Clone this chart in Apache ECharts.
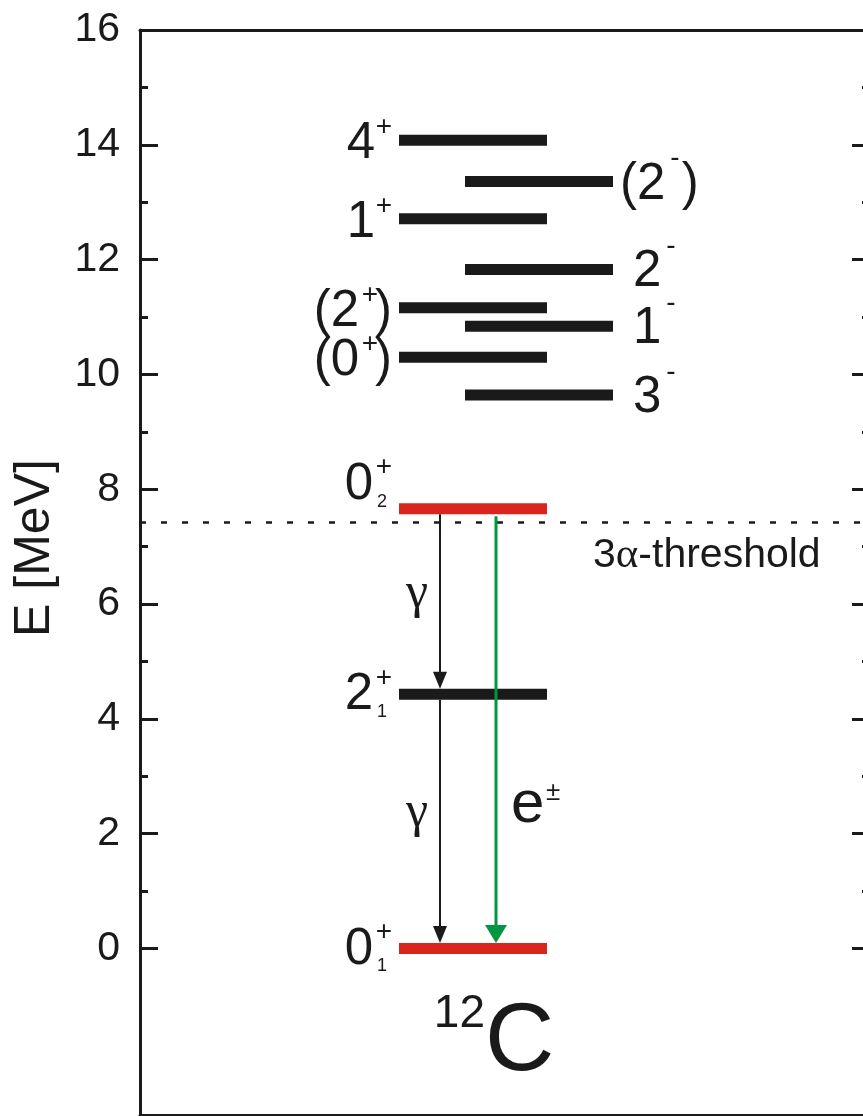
<!DOCTYPE html>
<html><head><meta charset="utf-8">
<script src="https://cdn.jsdelivr.net/npm/echarts@6/dist/echarts.min.js"></script>
<style>html,body{margin:0;padding:0;background:#fff}#c{width:863px;height:1116px}</style>
</head><body><div id="c"></div>
<script>
// ---------------- data ----------------
const yMajorTicks = [0, 2, 4, 6, 8, 10, 12, 14, 16];
const yMinorTicks = [1, 3, 5, 7, 9, 11, 13, 15];
const levelEnergy    = [14.08, 13.36, 12.71, 11.83, 11.16, 10.84, 10.30, 9.64, 7.66, 4.43, 0.00];
const levelSpin      = ['4', '2', '1', '2', '2', '1', '0', '3', '0', '2', '0'];
const levelParity    = ['+', '-', '+', '-', '+', '-', '+', '-', '+', '+', '+'];
const levelIndex     = ['', '', '', '', '', '', '', '', '2', '1', '1'];
const levelTentative = [false, true, false, false, true, false, true, false, false, false, false];
const levelColumn    = ['left', 'right', 'left', 'right', 'left', 'right', 'left', 'right', 'left', 'left', 'left'];
const transFrom  = [7.66, 4.43, 7.66];
const transTo    = [4.43, 0.00, 0.00];
const transKind  = ['gamma', 'gamma', 'pair'];
const transLabel = ['γ', 'γ', 'e'];
const transLabelSup = ['', '', '±'];
const thresholdE = 7.42;
const thresholdLabel = ['3', 'α', '-threshold'];
const nucleusMass = '12';
const nucleusSymbol = 'C';
const yAxisTitle = 'E [MeV]';
const yMin = -2.9, yMax = 16;

// ---------------- layout / style ----------------
const FONT = 'Liberation Sans, Arial, Helvetica, sans-serif';
const SERIF = 'Liberation Serif, Times New Roman, serif';
const INK = '#1a1a1a', RED = '#da251d', GREEN = '#00963f';
const X_MAX = 730;
const COL = { left: [259, 407], right: [325, 473] };
const ARROW_X = { gamma: 300, pair: 356 };
const BAR_H = 11;
const F_MAIN = 51, F_SUP = 28, F_SUB = 18;
const LABEL_NUDGE = { '0_2': -25 };
const TRANS_LABEL_AT = { gamma: 0.5, pair: 0.69 };
const NUCLEUS_AT = [345, -1.66];
const THRESH_LABEL_X = 453;

function txt(x, y, text, size, align, family, color) {
  return { type: 'text', x: x, y: y, style: { text: text, fill: color || INK, fontSize: size,
    fontFamily: family || FONT, align: align, verticalAlign: 'middle' } };
}

function leftLabel(i, ax, cy, out) {
  const spin = levelSpin[i], par = levelParity[i], sub = levelIndex[i], tent = levelTentative[i];
  if (sub) {
    const dy = LABEL_NUDGE[spin + '_' + sub] || 0;
    const my = cy + dy + 1;
    out.push(txt(ax - 19, my, spin, F_MAIN, 'right'));
    out.push(txt(ax, my - 17, par, F_SUP, 'right'));
    out.push(txt(ax - 15, my + 17, sub, F_SUB, 'left'));
  } else {
    let x = ax; const my = cy + 4;
    if (tent) { out.push(txt(x, my, ')', F_MAIN, 'right')); x -= 14; }
    out.push(txt(x, cy - 13, par, F_SUP, 'right'));
    x -= tent ? 19 : 17;
    out.push(txt(x, my, (tent ? '(' : '') + spin, F_MAIN, 'right'));
  }
}
function rightLabel(i, ax, cy, out) {
  let x = ax; const my = cy + 3; const tent = levelTentative[i];
  if (tent) { out.push(txt(x, my, '(', F_MAIN, 'left')); x += 0.333 * F_MAIN; } else { x += 13; }
  out.push(txt(x, my, levelSpin[i], F_MAIN, 'left')); x += 0.556 * F_MAIN + 5;
  out.push(txt(x, cy - 23, levelParity[i], F_SUP, 'left')); x += 0.333 * F_SUP + 2;
  if (tent) out.push(txt(x, my, ')', F_MAIN, 'left'));
}

function renderLevel(params, api) {
  const i = params.dataIndex;
  const E = api.value(1);
  const col = COL[levelColumn[i]];
  const p0 = api.coord([col[0], E]), p1 = api.coord([col[1], E]);
  const cy = p0[1];
  const red = levelSpin[i] === '0' && levelIndex[i] !== '';
  const children = [{ type: 'rect', shape: { x: p0[0], y: cy - BAR_H / 2, width: p1[0] - p0[0], height: BAR_H },
    style: { fill: red ? RED : INK } }];
  if (levelColumn[i] === 'left') leftLabel(i, p0[0] - 7, cy, children);
  else rightLabel(i, p1[0] + 7, cy, children);
  return { type: 'group', children: children };
}

function renderTrans(params, api) {
  const i = params.dataIndex;
  const kind = transKind[i];
  const x = api.coord([ARROW_X[kind], 0])[0];
  const yA = api.coord([ARROW_X[kind], api.value(1)])[1] + BAR_H / 2 + (kind === 'pair' ? 2 : 0);
  const yB = api.coord([ARROW_X[kind], api.value(2)])[1] - BAR_H / 2;
  const st = kind === 'pair' ? { c: GREEN, w: 3, hw: 11, hl: 18 } : { c: INK, w: 2, hw: 7, hl: 17 };
  const children = [
    { type: 'line', shape: { x1: x, y1: yA, x2: x, y2: yB - st.hl + 2 }, style: { stroke: st.c, lineWidth: st.w } },
    { type: 'polygon', shape: { points: [[x - st.hw, yB - st.hl], [x + st.hw, yB - st.hl], [x, yB]] }, style: { fill: st.c } }
  ];
  const ly = yA + TRANS_LABEL_AT[kind] * (yB - yA);
  if (kind === 'gamma') {
    children.push(txt(x - 12, ly - 8, transLabel[i], 50, 'right', SERIF));
  } else {
    children.push(txt(x + 15, ly - 5, transLabel[i], 60, 'left'));
    children.push(txt(x + 50, ly - 18, transLabelSup[i], 26, 'left'));
  }
  return { type: 'group', children: children };
}

function renderThreshold(params, api) {
  const E = api.value(1);
  const a = api.coord([0, E]), b = api.coord([X_MAX, E]);
  const lx = api.coord([THRESH_LABEL_X, E])[0];
  return { type: 'group', children: [
    { type: 'line', shape: { x1: a[0], y1: a[1], x2: b[0], y2: b[1] }, style: { stroke: INK, lineWidth: 2.5, lineDash: [6, 15] } },
    { type: 'text', x: lx, y: a[1] + 33, style: {
      text: '{a|' + thresholdLabel[0] + '}{g|' + thresholdLabel[1] + '}{a|' + thresholdLabel[2] + '}',
      rich: { a: { fontSize: 41, fontFamily: FONT, fill: INK }, g: { fontSize: 43, fontFamily: SERIF, fill: INK } },
      fill: INK, align: 'left', verticalAlign: 'middle' } }
  ] };
}

function renderNucleus(params, api) {
  const p = api.coord([api.value(0), api.value(1)]);
  return { type: 'group', children: [
    txt(p[0], p[1] - 30, nucleusMass, 46, 'right'),
    txt(p[0], p[1], nucleusSymbol, 96, 'left')
  ] };
}

const yBase = { type: 'value', min: yMin, max: yMax, splitLine: { show: false } };
function yAx(pos, ticks, len, showLine, showLabel) {
  return Object.assign({}, yBase, {
    position: pos,
    axisLine: { show: showLine, onZero: false, lineStyle: { color: INK, width: 3 } },
    axisTick: { show: true, inside: true, length: len, lineStyle: { color: INK, width: 3 }, customValues: ticks },
    axisLabel: showLabel ? { show: true, customValues: ticks, fontSize: 41, fontFamily: FONT, color: INK, margin: 20 } : { show: false }
  });
}
function xAx(pos) {
  return { type: 'value', min: 0, max: X_MAX, position: pos,
    axisLine: { show: true, onZero: false, lineStyle: { color: INK, width: 3 } },
    axisTick: { show: false }, axisLabel: { show: false }, splitLine: { show: false } };
}

const chart = echarts.init(document.getElementById('c'), null, { renderer: 'canvas', width: 863, height: 1116 });
chart.setOption({
  animation: false,
  backgroundColor: '#ffffff',
  grid: { left: 140, right: -7, top: 30, bottom: 1, containLabel: false, outerBoundsMode: 'none' },
  xAxis: [xAx('bottom'), xAx('top')],
  yAxis: [yAx('left', yMajorTicks, 18, true, true), yAx('left', yMinorTicks, 8, false, false),
          yAx('right', yMajorTicks, 18, true, false), yAx('right', yMinorTicks, 8, false, false)],
  graphic: [{ type: 'text', x: 35, y: 548, rotation: Math.PI / 2,
    style: { text: yAxisTitle, fontSize: 50, fontFamily: FONT, fill: INK, align: 'center', verticalAlign: 'middle' } }],
  series: [
    { type: 'custom', z: 1, xAxisIndex: 0, yAxisIndex: 0, data: [[0, thresholdE]], encode: { x: 0, y: 1 }, renderItem: renderThreshold },
    { type: 'custom', z: 2, xAxisIndex: 0, yAxisIndex: 0, data: levelEnergy.map((e, i) => [i, e]), encode: { x: 0, y: 1 }, renderItem: renderLevel },
    { type: 'custom', z: 3, xAxisIndex: 0, yAxisIndex: 0, data: transFrom.map((f, i) => [i, f, transTo[i]]), encode: { x: 0, y: [1, 2] }, renderItem: renderTrans },
    { type: 'custom', z: 3, xAxisIndex: 0, yAxisIndex: 0, data: [NUCLEUS_AT], encode: { x: 0, y: 1 }, renderItem: renderNucleus }
  ]
});
</script>
</body></html>
